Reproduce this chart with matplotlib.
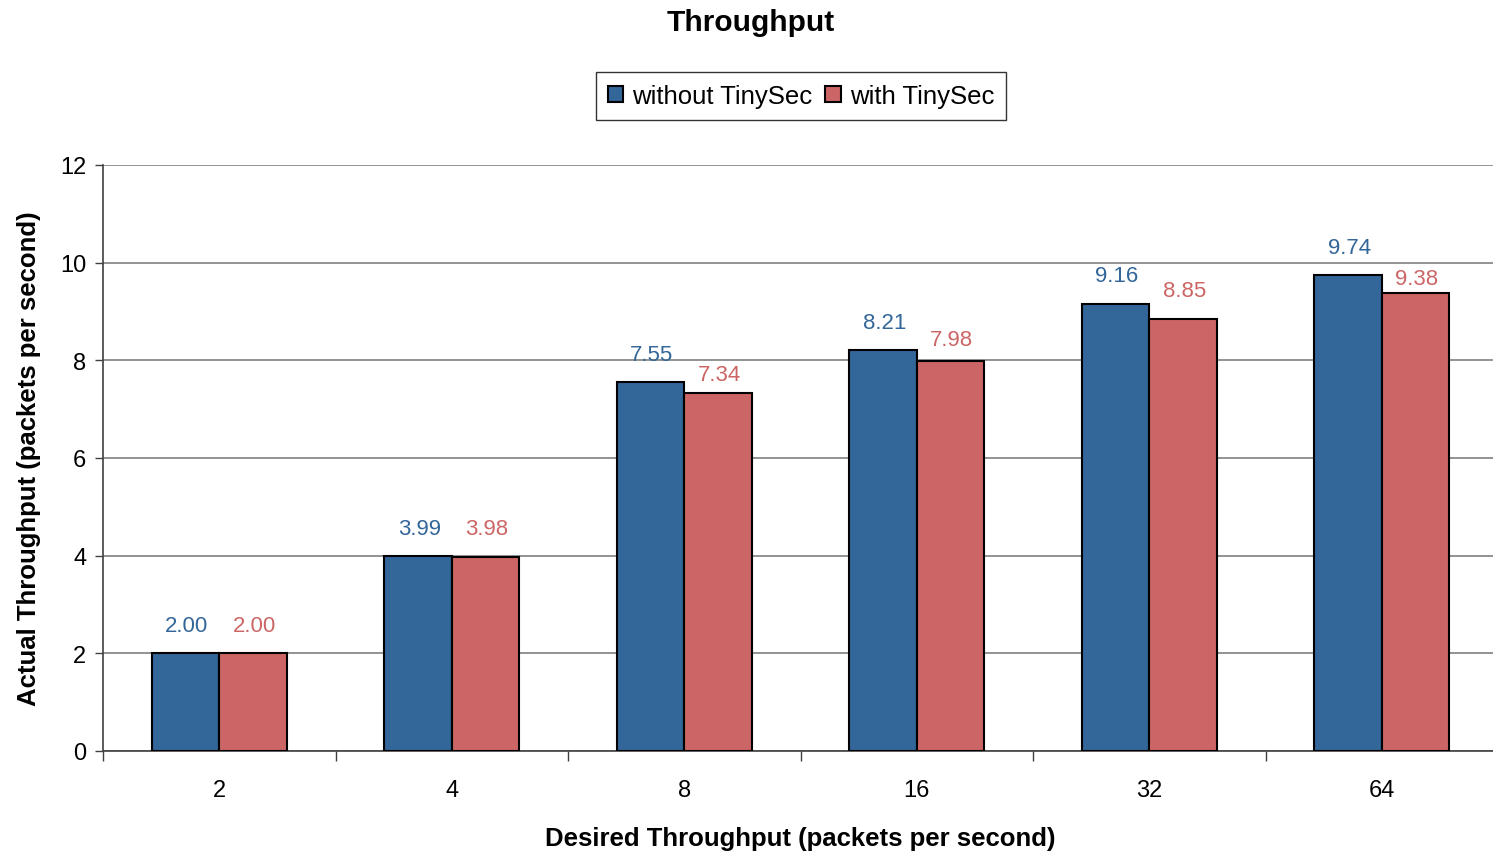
import numpy as np
import matplotlib.pyplot as plt
from matplotlib.ticker import FixedLocator, NullFormatter

categories = ["2", "4", "8", "16", "32", "64"]
without_tinysec = [2.00, 3.99, 7.55, 8.21, 9.16, 9.74]
with_tinysec = [2.00, 3.98, 7.34, 7.98, 8.85, 9.38]

blue = "#336699"
red = "#CC6666"

plt.rcParams["font.family"] = ["Liberation Sans", "DejaVu Sans"]

fig = plt.figure(figsize=(14.93, 8.53), dpi=100)
ax = fig.add_axes([103 / 1493, 1 - 752 / 853, 1395 / 1493, (752 - 166) / 853])

x = np.arange(len(categories))
w = 0.29
b1 = ax.bar(x - w / 2, without_tinysec, w, color=blue, edgecolor="black", linewidth=1.5,
            label="without TinySec", zorder=3)
b2 = ax.bar(x + w / 2, with_tinysec, w, color=red, edgecolor="black", linewidth=1.5,
            label="with TinySec", zorder=3)

# label gap above each bar (px); the red ones get nudged down where they crowd
gap_blue = [28, 28, 28, 28, 28, 28]
gap_red = [28, 28, 18, 22, 28, 14]

for bars, vals, gaps, c in ((b1, without_tinysec, gap_blue, blue),
                            (b2, with_tinysec, gap_red, red)):
    for rect, v, g in zip(bars, vals, gaps):
        ax.annotate(f"{v:.2f}", (rect.get_x() + rect.get_width() / 2 + 0.006, v),
                    xytext=(0, g * 0.72), textcoords="offset points",
                    ha="center", va="center", color=c, fontsize=16)

ax.set_xlim(-0.5, len(categories) - 0.5)
ax.set_ylim(0, 12)
ax.set_yticks(np.arange(0, 13, 2))
ax.yaxis.grid(True, color="#808080", linewidth=1.2, zorder=0)
ax.tick_params(axis="y", labelsize=17, length=6, width=1, color="#404040", pad=6)

ax.set_xticks(x)
ax.set_xticklabels(categories)
ax.xaxis.set_minor_locator(FixedLocator(np.arange(-0.5, len(categories), 1.0)))
ax.xaxis.set_minor_formatter(NullFormatter())
ax.tick_params(axis="x", which="major", length=0, labelsize=17, pad=20)
ax.tick_params(axis="x", which="minor", length=7, width=1, color="#404040")

for s in ("top", "right"):
    ax.spines[s].set_visible(False)
ax.spines["left"].set_color("#404040")
ax.spines["bottom"].set_color("#404040")
ax.spines["left"].set_linewidth(1.2)
ax.spines["bottom"].set_linewidth(1.2)

ax.set_xlabel("Desired Throughput (packets per second)", fontsize=18.5, fontweight="bold", labelpad=18)
ax.set_ylabel("Actual Throughput (packets per second)", fontsize=18.5, fontweight="bold", labelpad=14)

fig.text(751 / 1493, 1 - 23 / 853, "Throughput", ha="center", va="center",
         fontsize=21.5, fontweight="bold")

fig.legend(handles=[b1, b2], loc="center", bbox_to_anchor=(801 / 1493, 1 - 97 / 853),
           ncol=2, fontsize=18.5, frameon=True, fancybox=False, edgecolor="black",
           handlelength=0.6, handleheight=0.6, handletextpad=0.35, columnspacing=0.5,
           borderpad=0.45)

fig.savefig("out.png", dpi=100)
